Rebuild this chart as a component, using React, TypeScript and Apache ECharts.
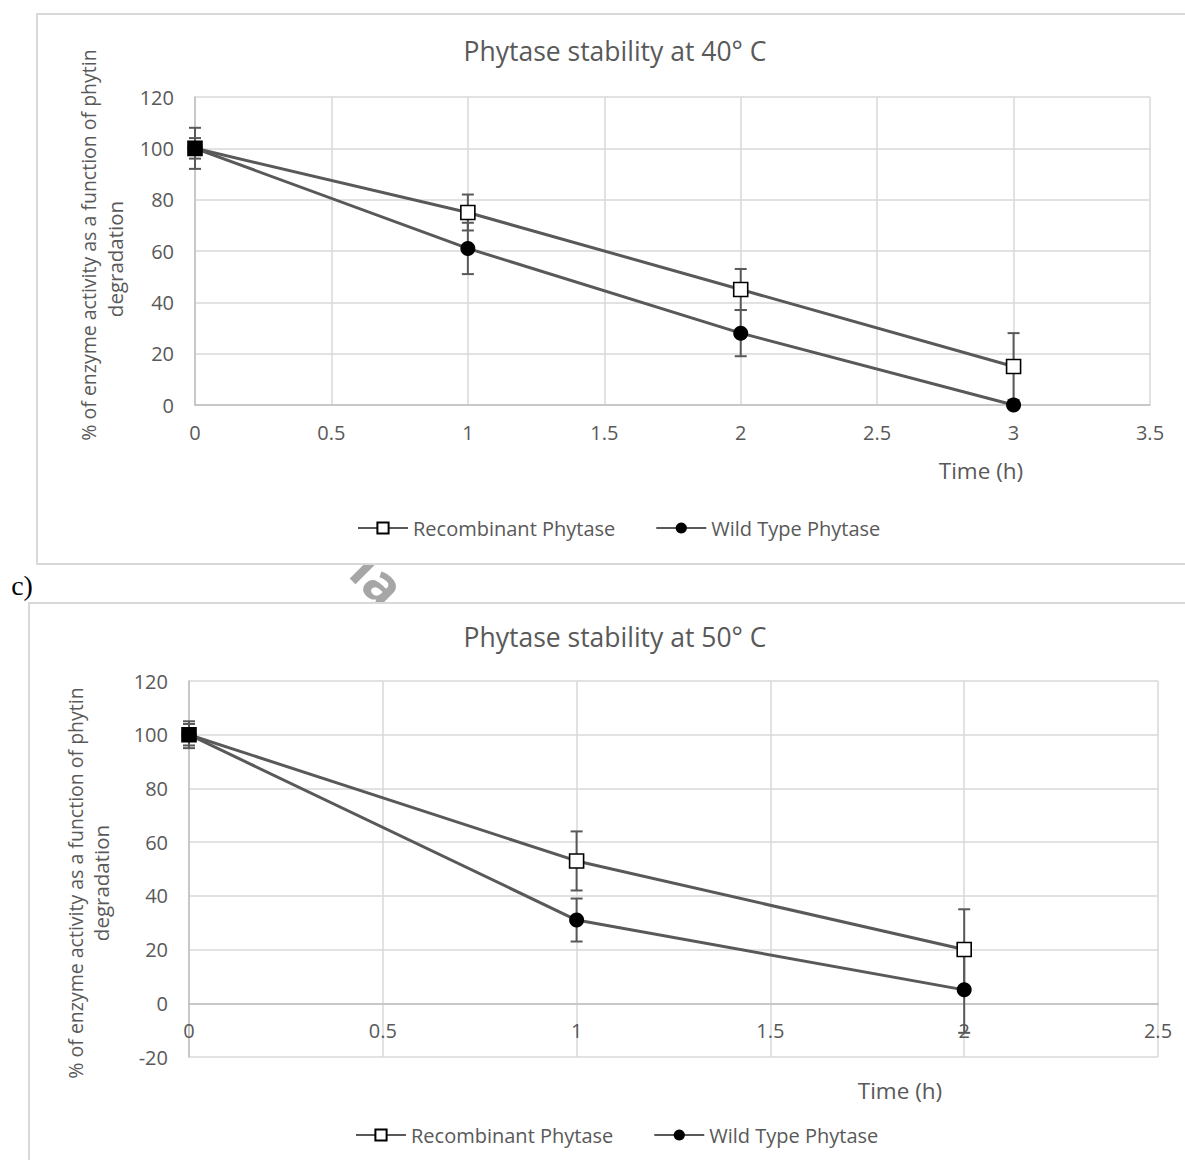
import React, { useEffect, useRef } from "react";
import * as echarts from "echarts";

// ---- data: chart (top) Phytase stability at 40° C ----
const timeTop = [0, 1, 2, 3];
const recTop = [100, 75, 45, 15];
const recTopErr = [8, 7, 8, 13];
const wildTop = [100, 61, 28, 0];
const wildTopErr = [4, 10, 9, 0];

// ---- data: chart (bottom) Phytase stability at 50° C ----
const timeBottom = [0, 1, 2];
const recBottom = [100, 53, 20];
const recBottomErr = [5, 11, 15];
const wildBottom = [100, 31, 5];
const wildBottomErr = [4, 8, 16];

const seriesNames = ["Recombinant Phytase", "Wild Type Phytase"];
const titles = ["Phytase stability at 40° C", "Phytase stability at 50° C"];
const yName1 = "% of enzyme activity as a function of phytin";
const yName2 = "degradation";
const xName = "Time (h)";

const FONT = "'Open Sans', 'Noto Sans', sans-serif";
const TXT = "#595959";
const LINE = "#595959";
const GRID = "#d9d9d9";
const TICK_FS = 20;

function pairs(xs: number[], ys: number[]) {
  return xs.map((x, i) => [x, ys[i]]);
}
function errData(xs: number[], ys: number[], es: number[]) {
  return xs.map((x, i) => [x, ys[i] - es[i], ys[i] + es[i]]);
}

function errorRender(params: any, api: any) {
  const x = api.value(0);
  const lo = api.coord([x, api.value(1)]);
  const hi = api.coord([x, api.value(2)]);
  const cap = 6;
  const style = { stroke: LINE, lineWidth: 2 };
  return {
    type: "group",
    children: [
      { type: "line", shape: { x1: lo[0], y1: lo[1], x2: hi[0], y2: hi[1] }, style },
      { type: "line", shape: { x1: hi[0] - cap, y1: hi[1], x2: hi[0] + cap, y2: hi[1] }, style },
      { type: "line", shape: { x1: lo[0] - cap, y1: lo[1], x2: lo[0] + cap, y2: lo[1] }, style },
    ],
  };
}

function recSeries(idx: number, xs: number[], ys: number[]) {
  return {
    name: seriesNames[0],
    type: "line",
    xAxisIndex: idx,
    yAxisIndex: idx,
    z: 4,
    symbol: "rect",
    symbolSize: 14,
    lineStyle: { color: LINE, width: 3 },
    itemStyle: { color: "#ffffff", borderColor: "#000000", borderWidth: 1.6 },
    data: pairs(xs, ys).map((p, i) =>
      i === 0 ? { value: p, symbolSize: 14, itemStyle: { color: "#000000", borderColor: "#000000" } } : p
    ),
  };
}
function wildSeries(idx: number, xs: number[], ys: number[]) {
  return {
    name: seriesNames[1],
    type: "line",
    xAxisIndex: idx,
    yAxisIndex: idx,
    z: 3,
    symbol: "circle",
    symbolSize: 15,
    lineStyle: { color: LINE, width: 3 },
    itemStyle: { color: "#000000", borderColor: "#000000", borderWidth: 0 },
    data: pairs(xs, ys),
  };
}
function errSeries(idx: number, data: number[][]) {
  return {
    type: "custom",
    xAxisIndex: idx,
    yAxisIndex: idx,
    z: 2,
    renderItem: errorRender,
    encode: { x: 0, y: [1, 2] },
    data,
    silent: true,
  };
}

function xAxis(idx: number, max: number, opts: { labels: boolean; split: boolean; line: boolean }) {
  return {
    type: "value",
    gridIndex: idx,
    min: 0,
    max,
    interval: 0.5,
    axisLine: { show: opts.line, lineStyle: { color: "#bfbfbf", width: 1.5 } },
    axisTick: { show: false },
    splitLine: { show: opts.split, lineStyle: { color: GRID, width: 1.5 } },
    axisLabel: { show: opts.labels, color: TXT, fontSize: TICK_FS, fontFamily: FONT, margin: 17 },
  };
}
function yAxis(idx: number, min: number, show = true) {
  return {
    type: "value",
    gridIndex: idx,
    show,
    min,
    max: 120,
    interval: 20,
    axisLine: { show: true, lineStyle: { color: "#bfbfbf", width: 1.5 } },
    axisTick: { show: false },
    splitLine: { show: true, lineStyle: { color: GRID, width: 1.5 } },
    axisLabel: { color: TXT, fontSize: TICK_FS, fontFamily: FONT, margin: 21 },
  };
}

function txt(x: number, y: number, text: string, size: number, extra: any = {}) {
  return {
    type: "text",
    x,
    y,
    ...extra,
    style: {
      text,
      fill: TXT,
      font: `${size}px ${FONT}`,
      textAlign: "center",
      textVerticalAlign: "middle",
      ...(extra.style || {}),
    },
  };
}

function legend(left: number, top: number) {
  return {
    data: seriesNames,
    left,
    top,
    itemWidth: 50,
    itemHeight: 14,
    itemGap: 40,
    textStyle: { color: TXT, fontSize: 20, fontFamily: FONT },
  };
}

export default function App() {
  const ref = useRef<HTMLDivElement>(null);
  useEffect(() => {
    if (!ref.current) return;
    const chart = echarts.init(ref.current, undefined, { renderer: "svg" });
    const option: any = {
      animation: false,
      backgroundColor: "#ffffff",
      grid: [
        { left: 195, top: 97, width: 955, height: 308 },
        { left: 189, top: 681, width: 969, height: 376 },
        // same plot, range 0..120 only: carries the x-axis line and labels at y = 0
        { left: 189, top: 681, width: 969, height: 322.3 },
      ],
      xAxis: [
        xAxis(0, 3.5, { labels: true, split: true, line: true }),
        xAxis(1, 2.5, { labels: false, split: true, line: false }),
        xAxis(2, 2.5, { labels: true, split: false, line: true }),
      ],
      yAxis: [yAxis(0, 0), yAxis(1, -20), yAxis(2, 0, false)],
      legend: [legend(352, 513), legend(350, 1120)],
      graphic: [
        {
          type: "text",
          x: 379,
          y: 578,
          rotation: (-45 * Math.PI) / 180,
          z: -10,
          style: {
            text: "la",
            fill: "#a6a6a6",
            font: `bold 54px ${FONT}`,
            textAlign: "center",
            textVerticalAlign: "middle",
          },
        },
        {
          type: "rect",
          z: -5,
          shape: { x: 37, y: 14, width: 1200, height: 550 },
          style: { fill: "#ffffff", stroke: GRID, lineWidth: 2 },
        },
        {
          type: "rect",
          z: -5,
          shape: { x: 29, y: 603, width: 1200, height: 600 },
          style: { fill: "#ffffff", stroke: GRID, lineWidth: 2 },
        },
        {
          type: "text",
          x: 22,
          y: 585,
          style: {
            text: "c)",
            fill: "#000000",
            font: "28px 'Liberation Serif', 'Times New Roman', serif",
            textAlign: "center",
            textVerticalAlign: "middle",
          },
        },
        txt(615, 51, titles[0], 26.5),
        txt(615, 637, titles[1], 26.5),
        txt(88, 245, yName1, 19.5, { rotation: Math.PI / 2 }),
        txt(115, 259, yName2, 20.5, { rotation: Math.PI / 2 }),
        txt(75, 883, yName1, 19.5, { rotation: Math.PI / 2 }),
        txt(101, 883, yName2, 20.5, { rotation: Math.PI / 2 }),
        txt(981, 470, xName, 22.5),
        txt(900, 1090, xName, 22.5),
      ],
      series: [
        errSeries(0, errData(timeTop, wildTop, wildTopErr)),
        errSeries(0, errData(timeTop, recTop, recTopErr)),
        wildSeries(0, timeTop, wildTop),
        recSeries(0, timeTop, recTop),
        errSeries(1, errData(timeBottom, wildBottom, wildBottomErr)),
        errSeries(1, errData(timeBottom, recBottom, recBottomErr)),
        wildSeries(1, timeBottom, wildBottom),
        recSeries(1, timeBottom, recBottom),
      ],
    };
    chart.setOption(option);
    return () => chart.dispose();
  }, []);
  return (
    <div
      ref={ref}
      style={{ position: "absolute", left: 0, top: 0, width: 1185, height: 1160 }}
    />
  );
}
